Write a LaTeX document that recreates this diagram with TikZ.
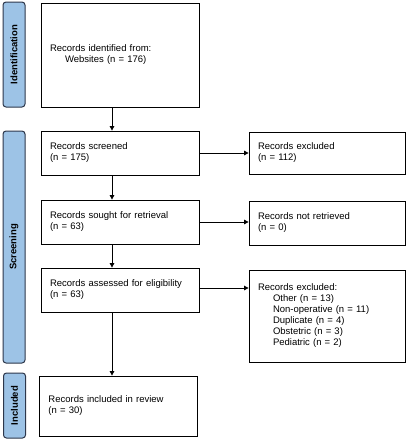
\documentclass[tikz,border=0pt]{standalone}
\usepackage{fontspec}
\setmainfont{Liberation Sans}
\usetikzlibrary{shapes,arrows.meta}
\definecolor{tabfill}{RGB}{157,195,230}
\definecolor{tabline}{RGB}{45,55,75}

\begin{document}
\begin{tikzpicture}[x=1pt,y=-1pt,
  box/.style={shape=rectangle,draw=black,align=left,line width=0.8pt,inner xsep=9pt,text width=140pt,minimum width=158pt,font=\fontsize{9.5}{11}\selectfont},
  sidebox/.style={box,text width=138pt,minimum width=156pt},
  tab/.style={shape=rectangle,rounded corners=3pt,draw=tabline,fill=tabfill,line width=1pt,rotate=90,minimum height=22pt,inner sep=0pt,font=\fontsize{9.5}{11}\selectfont\bfseries},
  flow/.style={-{Triangle[length=4.5pt,width=4.5pt]},draw=black,line width=0.8pt}]
\useasboundingbox (0,0) rectangle (409,440);
\node[tab,minimum width=105pt] (t0) at (14,54.5) {Identification};
\node[tab,minimum width=232pt] (t1) at (14,247) {Screening};
\node[tab,minimum width=65pt] (t2) at (14.5,405.5) {Included};
\node[box,minimum height=104pt] (0) at (120,55) {Records identified from:\\\hspace*{15pt}Websites (n = 176)};
\node[box,minimum height=44pt] (1) at (120,153) {Records screened\\(n = 175)};
\node[box,minimum height=44pt] (2) at (120,222) {Records sought for retrieval\\(n = 63)};
\node[box,minimum height=44pt] (3) at (120,290) {Records assessed for eligibility\\(n = 63)};
\node[box,minimum width=157pt,minimum height=60pt] (4) at (118.5,406) {Records included in review\\(n = 30)};
\node[sidebox,minimum height=42pt] (5) at (327,153) {Records excluded\\(n = 112)};
\node[sidebox,minimum height=44pt] (6) at (327,223) {Records not retrieved\\(n = 0)};
\node[sidebox,minimum height=92pt] (7) at (327,316) {Records excluded:\\\hspace*{15pt}Other (n = 13)\\\hspace*{15pt}Non-operative (n = 11)\\\hspace*{15pt}Duplicate (n = 4)\\\hspace*{15pt}Obstetric (n = 3)\\\hspace*{15pt}Pediatric (n = 2)};

\path ([xshift=-8pt]0.south) edge[flow] ([xshift=-8pt]1.north);
\path ([xshift=-8pt]1.south) edge[flow] ([xshift=-8pt]2.north);
\path ([xshift=-8pt]2.south) edge[flow] ([xshift=-8pt]3.north);
\path ([xshift=-8pt]3.south) edge[flow] ([xshift=-8pt]3.south |- 4.north);
\path (1.east) edge[flow] (1.east -| 5.west);
\path (2.east) edge[flow] (2.east -| 6.west);
\path ([yshift=2pt]3.east) edge[flow] ([yshift=2pt]3.east -| 7.west);
\end{tikzpicture}
\end{document}
